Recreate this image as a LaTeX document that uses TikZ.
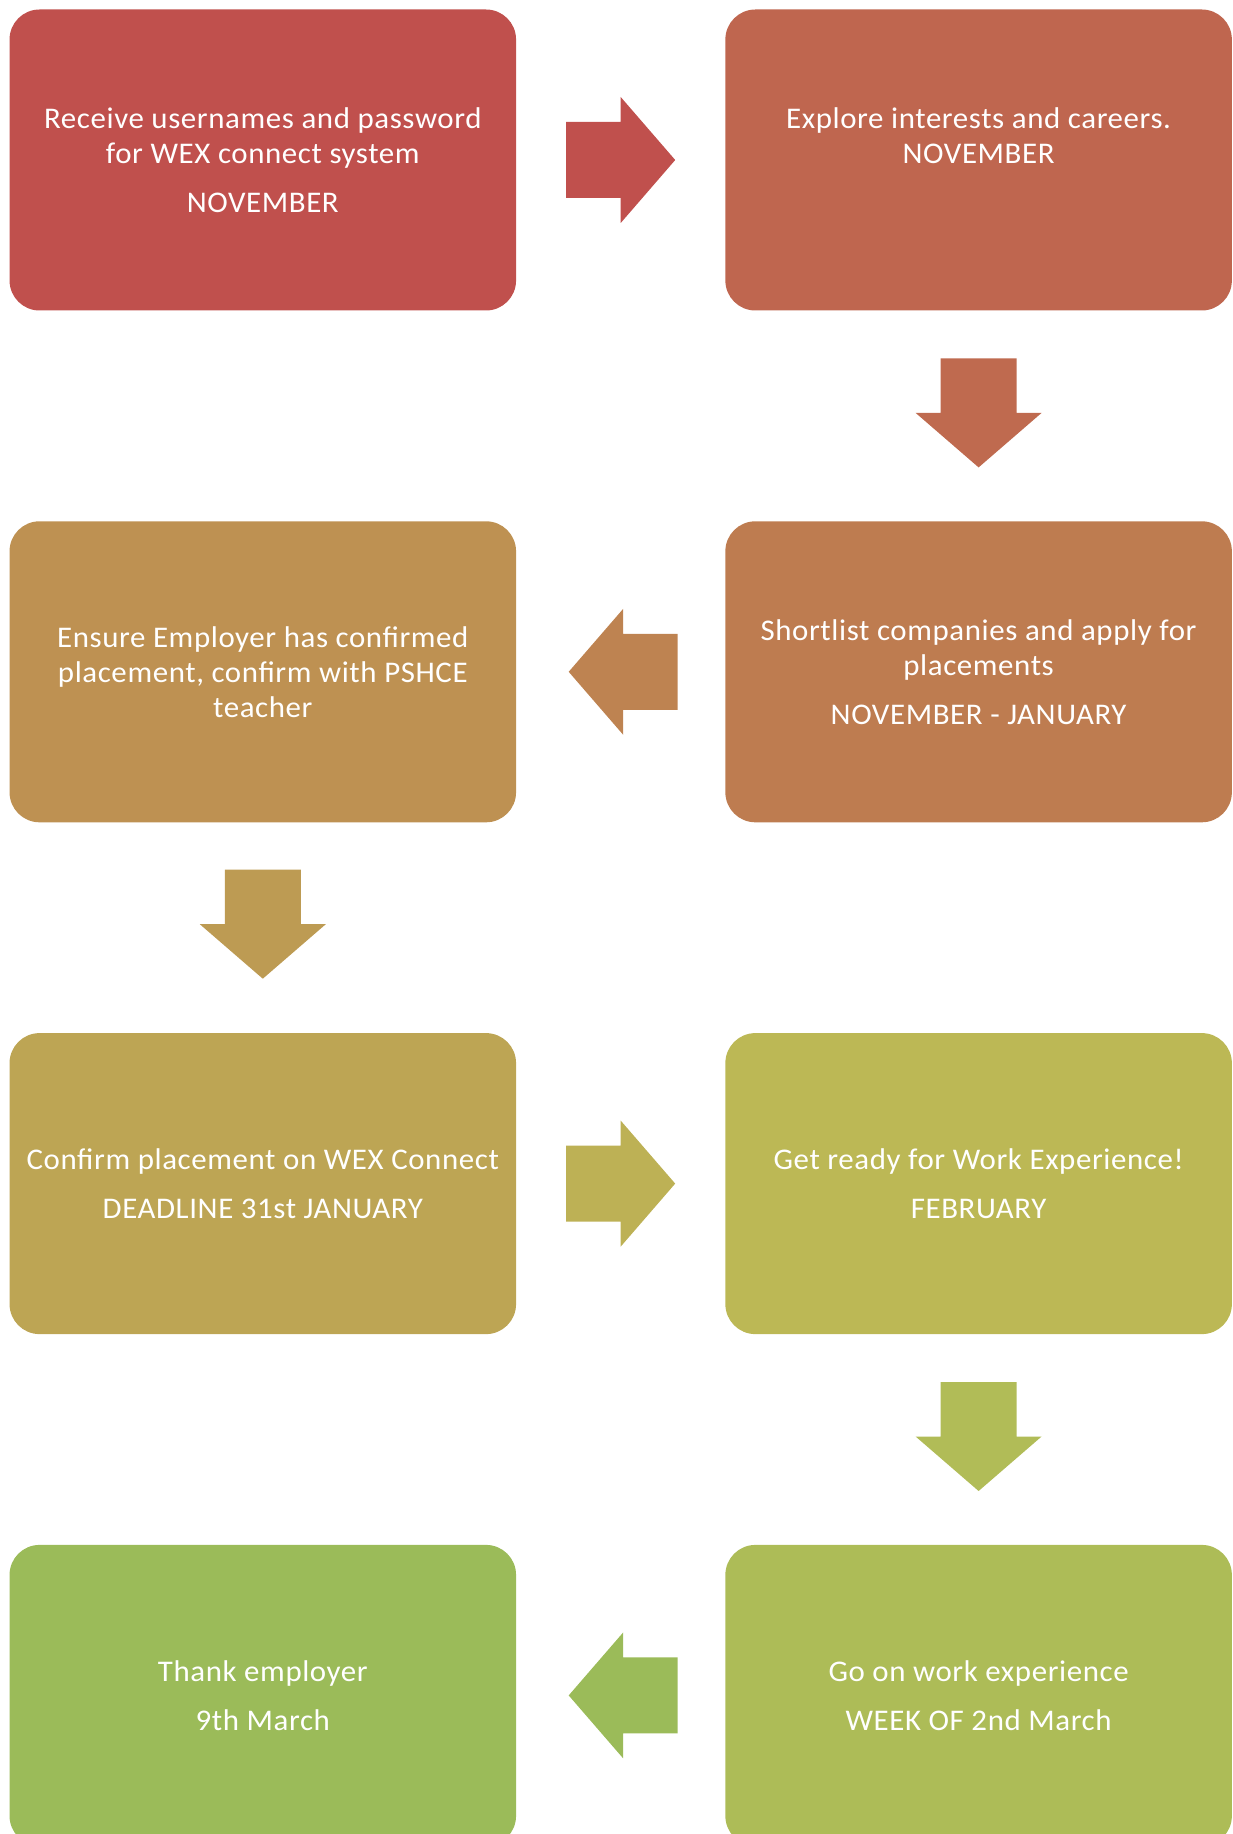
\documentclass[tikz,border=0pt]{standalone}
\usepackage{fontspec}
\setmainfont{Carlito}[FakeStretch=1.03, LetterSpace=2]
\usetikzlibrary{positioning,calc}

\definecolor{stepA}{HTML}{C0504D}
\definecolor{stepB}{HTML}{BF664F}
\definecolor{stepC}{HTML}{BE7C50}
\definecolor{stepD}{HTML}{BE9152}
\definecolor{stepE}{HTML}{BDA554}
\definecolor{stepF}{HTML}{BCB855}
\definecolor{stepG}{HTML}{ADBC57}
\definecolor{stepH}{HTML}{9BBB59}
\definecolor{arrowB}{HTML}{BF6A4F}
\definecolor{arrowC}{HTML}{BE8351}
\definecolor{arrowD}{HTML}{BD9B53}
\definecolor{arrowE}{HTML}{BDB155}
\definecolor{arrowF}{HTML}{B1BC57}

\begin{document}
\begin{tikzpicture}[node distance=105pt and 104.25pt,
    stepbox/.style={rounded corners=15pt, minimum width=253.25pt, minimum height=150.5pt,
        inner sep=0pt, align=center, text=white, font=\fontsize{15}{17.5}\selectfont},
    blockarrow/.pic={\path[pic actions] (-27.25pt,-19pt) -- (0pt,-19pt) -- (0pt,-31.5pt)
        -- (27.25pt,0pt) -- (0pt,31.5pt) -- (0pt,19pt) -- (-27.25pt,19pt) -- cycle;}]

        \useasboundingbox (0,0) rectangle (616pt,-917pt);
        \clip (0,0) rectangle (616pt,-917pt);

        % Define steps
        \node[stepbox, fill=stepA] (receive) at (131.4pt,-80pt) {Receive usernames and password\\for WEX connect system\\[7pt]NOVEMBER};
        \node[stepbox, fill=stepB] (explore) [right=of receive] {Explore interests and careers.\\NOVEMBER\\[7pt]\mbox{}};
        \node[stepbox, fill=stepC] (shortlist) [below=of explore] {Shortlist companies and apply for\\placements\\[7pt]NOVEMBER - JANUARY};
        \node[stepbox, fill=stepD] (ensure) [left=of shortlist] {Ensure Employer has confirmed\\placement, confirm with PSHCE\\teacher};
        \node[stepbox, fill=stepE] (confirm) [below=of ensure] {Confirm placement on WEX Connect\\[7pt]DEADLINE 31st JANUARY};
        \node[stepbox, fill=stepF] (ready) [right=of confirm] {Get ready for Work Experience!\\[7pt]FEBRUARY};
        \node[stepbox, fill=stepG] (goon) [below=of ready] {Go on work experience\\[7pt]WEEK OF 2nd March};
        \node[stepbox, fill=stepH] (thank) [left=of goon] {Thank employer\\[7pt]9th March};

        % Draw arrows
        \pic[fill=stepA] at ($(receive.east)!.5!(explore.west)$) {blockarrow};
        \pic[fill=arrowB, rotate=-90] at ($(explore.south)!.5!(shortlist.north)+(0,1.5pt)$) {blockarrow};
        \pic[fill=arrowC, rotate=180] at ($(shortlist.west)!.5!(ensure.east)+(1.25pt,0)$) {blockarrow};
        \pic[fill=arrowD, rotate=-90] at ($(ensure.south)!.5!(confirm.north)+(0,1.75pt)$) {blockarrow};
        \pic[fill=arrowE] at ($(confirm.east)!.5!(ready.west)$) {blockarrow};
        \pic[fill=arrowF, rotate=-90] at ($(ready.south)!.5!(goon.north)+(0,1.5pt)$) {blockarrow};
        \pic[fill=stepH, rotate=180] at ($(goon.west)!.5!(thank.east)+(1.25pt,0)$) {blockarrow};

        \end{tikzpicture}
\end{document}
